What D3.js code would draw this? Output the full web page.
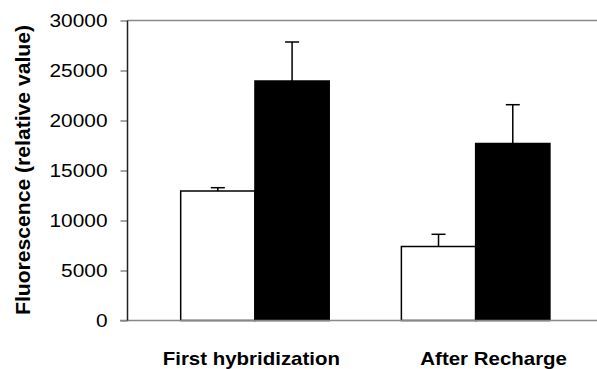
<!DOCTYPE html>
<html>
<head>
<meta charset="utf-8">
<script src="https://cdn.jsdelivr.net/npm/d3@7"></script>
<style>
  html, body { margin: 0; padding: 0; background: #fff; }
  svg { display: block; }
  text { font-family: "Liberation Sans", Arial, sans-serif; fill: #000; }
</style>
</head>
<body>
<svg id="chart" width="597" height="369"></svg>
<script>
// ---- data ----
const categories = ["First hybridization", "After Recharge"];
const seriesNames = ["Control", "Treated"];
const whiteValues = [12950, 7400];
const whiteErrors = [330, 1220];
const blackValues = [23950, 17700];
const blackErrors = [3900, 3880];
const yTicks = [0, 5000, 10000, 15000, 20000, 25000, 30000];
const yLabel = "Fluorescence (relative value)";

// ---- layout ----
const svg = d3.select("#chart");
const axisX = 127.5, yTop = 20.5, yBottom = 320.5, rightEdge = 597;

const y = d3.scaleLinear().domain([0, 30000]).range([yBottom, yTop]);
const x0 = d3.scaleBand().domain(categories).range([144.6, 586]).paddingInner(0.327).paddingOuter(0.1635);
const x1 = d3.scaleBand().domain(seriesNames).range([0, x0.bandwidth()]);

const rows = categories.map((c, i) => ({
  cat: c,
  bars: [
    { s: seriesNames[0], v: whiteValues[i], e: whiteErrors[i], fill: "#fff" },
    { s: seriesNames[1], v: blackValues[i], e: blackErrors[i], fill: "#000" }
  ]
}));

// top frame line
svg.append("line")
  .attr("x1", axisX).attr("x2", rightEdge)
  .attr("y1", y(30000)).attr("y2", y(30000))
  .attr("stroke", "#888").attr("stroke-width", 1.6);

// bars
const g = svg.selectAll("g.grp").data(rows).join("g")
  .attr("class", "grp")
  .attr("transform", d => `translate(${x0(d.cat)},0)`);

g.selectAll("rect").data(d => d.bars).join("rect")
  .attr("x", d => x1(d.s))
  .attr("y", d => y(d.v))
  .attr("width", x1.bandwidth())
  .attr("height", d => y(0) - y(d.v))
  .attr("fill", d => d.fill)
  .attr("stroke", "#000").attr("stroke-width", 1.5);

// error bars (upward only)
const capW = 14;
g.selectAll("line.err").data(d => d.bars).join("line")
  .attr("class", "err")
  .attr("x1", d => x1(d.s) + x1.bandwidth() / 2)
  .attr("x2", d => x1(d.s) + x1.bandwidth() / 2)
  .attr("y1", d => y(d.v))
  .attr("y2", d => y(d.v + d.e))
  .attr("stroke", "#000").attr("stroke-width", 1.5);
g.selectAll("line.cap").data(d => d.bars).join("line")
  .attr("class", "cap")
  .attr("x1", d => x1(d.s) + x1.bandwidth() / 2 - capW / 2)
  .attr("x2", d => x1(d.s) + x1.bandwidth() / 2 + capW / 2)
  .attr("y1", d => y(d.v + d.e))
  .attr("y2", d => y(d.v + d.e))
  .attr("stroke", "#000").attr("stroke-width", 1.5);

// x axis line
svg.append("line")
  .attr("x1", 120).attr("x2", rightEdge)
  .attr("y1", y(0)).attr("y2", y(0))
  .attr("stroke", "#888").attr("stroke-width", 1.6);

// y axis
const yAxis = d3.axisLeft(y).tickValues(yTicks).tickSize(7).tickPadding(13).tickFormat(d3.format("d"));
const ya = svg.append("g").attr("transform", `translate(${axisX},0)`).call(yAxis);
ya.select(".domain").remove();
ya.selectAll(".tick line").attr("stroke", "#888").attr("stroke-width", 1.5);
ya.selectAll(".tick text")
  .attr("font-size", 18)
  .attr("font-family", "Liberation Sans, Arial, sans-serif")
  .attr("textLength", function(d){ return String(d).length * 11.6; })
  .attr("lengthAdjust", "spacingAndGlyphs");
svg.append("line")
  .attr("x1", axisX).attr("x2", axisX)
  .attr("y1", y(30000)).attr("y2", y(0))
  .attr("stroke", "#222").attr("stroke-width", 1.5);

// category labels
const labelShift = [-3.6, 18];
svg.selectAll("text.cat").data(categories).join("text")
  .attr("class", "cat")
  .attr("x", (d, i) => x0(d) + x0.bandwidth() / 2 + labelShift[i])
  .attr("y", 365)
  .attr("text-anchor", "middle")
  .attr("font-weight", "bold")
  .attr("font-size", 18.6)
  .attr("transform", (d, i) => {
    const cx = x0(d) + x0.bandwidth() / 2 + labelShift[i];
    return `translate(${cx},0) scale(1.1,1) translate(${-cx},0)`;
  })
  .text(d => d);

// y label
svg.append("text")
  .attr("transform", "translate(29.5,170) rotate(-90)")
  .attr("text-anchor", "middle")
  .attr("font-weight", "bold")
  .attr("font-size", 20)
  .attr("textLength", 290)
  .attr("lengthAdjust", "spacingAndGlyphs")
  .text(yLabel);
</script>
</body>
</html>
